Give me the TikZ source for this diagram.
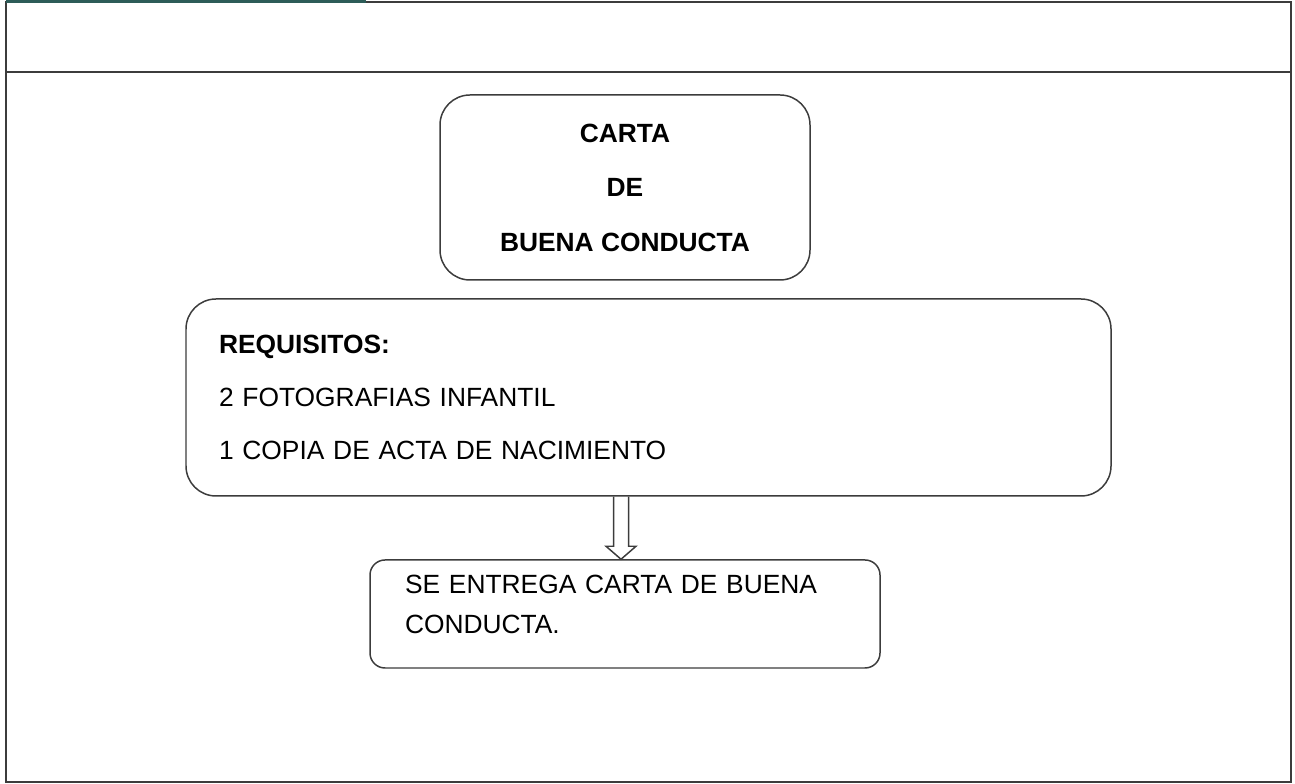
\documentclass[tikz,border=0pt]{standalone}
\usepackage{fontspec}
\setmainfont{Liberation Sans}
\usepackage{xcolor}
\definecolor{framegray}{RGB}{60, 60, 60}
\definecolor{tabteal}{RGB}{45, 92, 88}
\usepackage{tikz}
\usetikzlibrary{positioning, calc}

\begin{document}
\begin{tikzpicture}[
  roundbox/.style={draw=framegray, line width=0.85pt, inner ysep=0pt},
  arrowline/.style={draw=framegray, line width=0.85pt, line join=miter}
]
  \useasboundingbox (0,0) rectangle (25.9,15.68);

  % Outer frame and header
  \draw[framegray, line width=0.9pt] (0.12,0.04) rectangle (25.82,15.64);
  \draw[framegray, line width=0.9pt] (0.12,14.24) -- (25.82,14.24);
  \draw[tabteal, line width=2pt] (0.12,15.65) -- (7.32,15.65);

  % Title box
  \node[roundbox, rounded corners=0.6cm, minimum width=7.4cm, minimum height=3.7cm,
        align=center, font=\fontsize{15}{31}\selectfont\bfseries]
    (title) at (12.5,11.93) {CARTA\\DE\\BUENA CONDUCTA};

  % Requirements box
  \node[roundbox, rounded corners=0.6cm, minimum height=3.94cm, inner xsep=0.66cm,
        text width=17.18cm, align=left, font=\fontsize{15}{30}\selectfont]
    (req) at (12.97,7.73)
    {\textbf{REQUISITOS:}\\2 FOTOGRAFIAS INFANTIL\\1 COPIA DE ACTA DE NACIMIENTO};

  % Result box
  \node[roundbox, rounded corners=0.3cm, minimum height=2.16cm, inner xsep=0.7cm,
        text width=8.8cm, text depth=1.2cm, align=left, font=\fontsize{15}{22.7}\selectfont]
    (final) at (12.5,3.4) {SE ENTREGA CARTA DE BUENA\\CONDUCTA.};

  % Hollow arrow
  \coordinate (tip) at ($(final.north)+(-0.08,0)$);
  \coordinate (base) at (tip |- req.south);
  \draw[arrowline] ($(base)+(-0.15,0)$) -- ($(tip)+(-0.15,0.26)$) -- ($(tip)+(-0.3,0.26)$)
    -- (tip) -- ($(tip)+(0.3,0.26)$) -- ($(tip)+(0.15,0.26)$) -- ($(base)+(0.15,0)$);
\end{tikzpicture}
\end{document}
